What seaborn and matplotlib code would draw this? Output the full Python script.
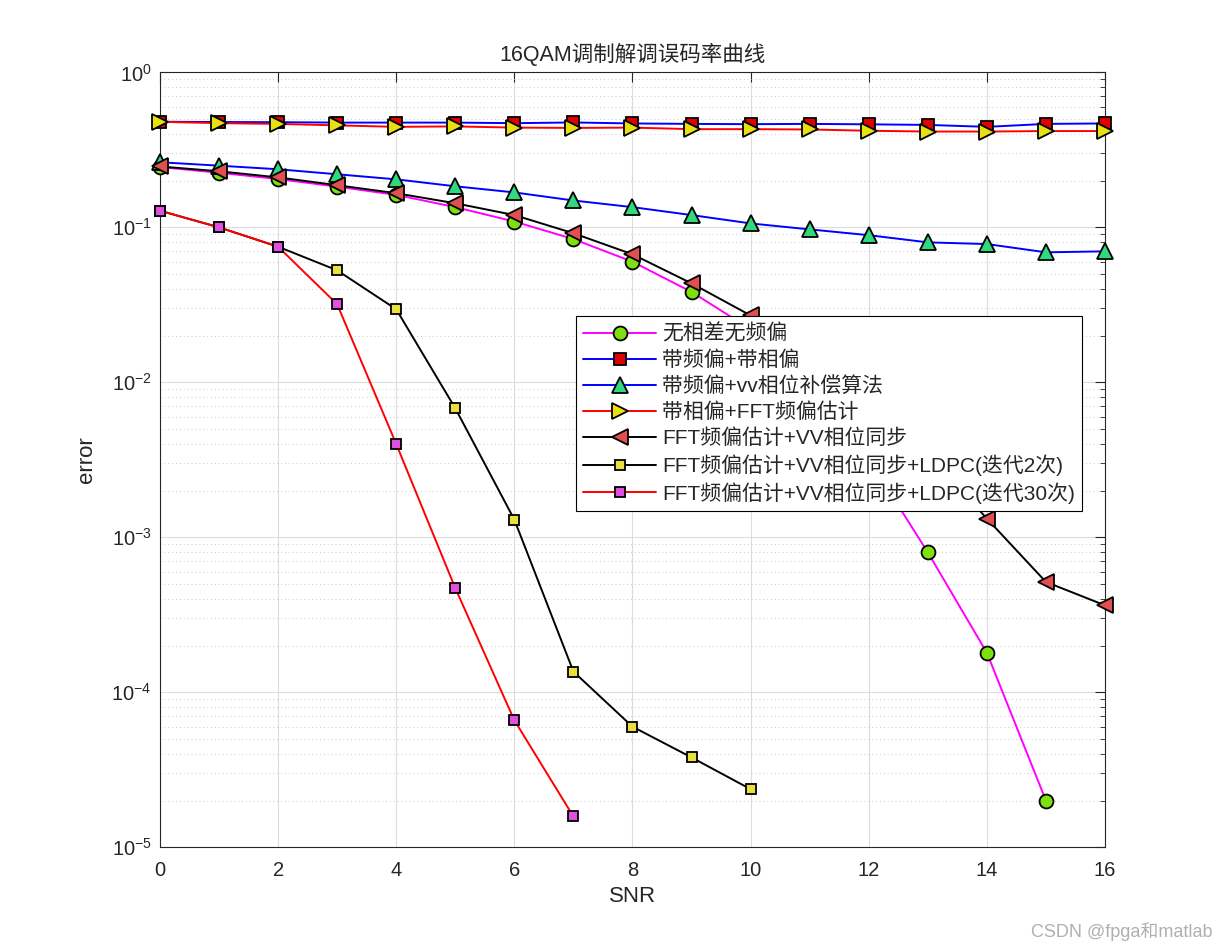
import numpy as np
import pandas as pd
import matplotlib
matplotlib.use("Agg")
import matplotlib.pyplot as plt
import seaborn as sns

## 数据
snr = list(range(0, 17))
ideal = [0.245, 0.225, 0.205, 0.183, 0.162, 0.135, 0.109, 0.084, 0.060, 0.0383,
         0.022, 0.0095, 0.0032, 0.0008, 0.00018, 0.00002]
freq_phase = [0.480, 0.478, 0.477, 0.474, 0.474, 0.474, 0.470, 0.475, 0.468, 0.465,
              0.463, 0.465, 0.462, 0.458, 0.445, 0.465, 0.468]
vv_comp = [0.263, 0.250, 0.237, 0.220, 0.204, 0.184, 0.168, 0.149, 0.135, 0.120,
           0.106, 0.097, 0.089, 0.080, 0.078, 0.069, 0.070]
fft_est = [0.480, 0.470, 0.465, 0.455, 0.445, 0.448, 0.440, 0.438, 0.440, 0.430,
           0.430, 0.428, 0.420, 0.415, 0.415, 0.418, 0.418]
fft_vv = [0.247, 0.230, 0.210, 0.187, 0.166, 0.143, 0.120, 0.0916, 0.067, 0.0435,
          0.027, 0.016, 0.008, 0.0035, 0.00132, 0.000515, 0.000364]
ldpc2 = [0.128, 0.100, 0.075, 0.0528, 0.0296, 0.0068, 0.0013, 0.000136, 0.000060,
         0.000038, 0.0000237]
ldpc30 = [0.128, 0.100, 0.075, 0.0319, 0.0040, 0.00047, 0.000066, 0.0000158]

labels = ['无相差无频偏', '带频偏+带相偏', '带频偏+vv相位补偿算法', '带相偏+FFT频偏估计',
          'FFT频偏估计+VV相位同步', 'FFT频偏估计+VV相位同步+LDPC(迭代2次)',
          'FFT频偏估计+VV相位同步+LDPC(迭代30次)']
ytick_vals = [1e-5, 1e-4, 1e-3, 1e-2, 1e-1, 1]
ytick_text = ['$\\mathregular{10^{-5}}$', '$\\mathregular{10^{-4}}$', '$\\mathregular{10^{-3}}$',
              '$\\mathregular{10^{-2}}$', '$\\mathregular{10^{-1}}$', '$\\mathregular{10^{0}}$']

sns.set_style('white')
plt.rcParams['font.family'] = ['Liberation Sans', 'Noto Sans CJK SC', 'DejaVu Sans']
plt.rcParams['mathtext.fontset'] = 'custom'
plt.rcParams['mathtext.rm'] = 'Liberation Sans'
plt.rcParams['axes.unicode_minus'] = False

fig = plt.figure(figsize=(12.21, 9.52), dpi=100)
ax = fig.add_axes([0.131, 0.110, 0.774, 0.814])

# (数据, 线色, 标记, 填充色, 标记大小)
series = [
    (ideal, '#ff00ff', 'o', '#7fe010', 10),
    (freq_phase, '#0000ff', 's', '#e00000', 8),
    (vv_comp, '#0000ff', '^', '#30d880', 11),
    (fft_est, '#ff0000', '>', '#e8e010', 11),
    (fft_vv, '#000000', '<', '#e05050', 11),
    (ldpc2, '#000000', 's', '#e8e040', 7),
    (ldpc30, '#ff0000', 's', '#e050e0', 7),
]

for (vals, lc, mk, fc, ms), lab in zip(series, labels):
    df = pd.DataFrame({'SNR': snr[:len(vals)], 'error': vals})
    sns.lineplot(data=df, x='SNR', y='error', ax=ax, color=lc, linewidth=1.4,
                 marker=mk, markersize=ms, markerfacecolor=fc,
                 markeredgecolor='k', markeredgewidth=1.3, label=lab,
                 clip_on=False, zorder=3)

ax.set_yscale('log')
ax.set_xlim(0, 16)
ax.set_ylim(1e-5, 1)
ax.set_xticks(range(0, 17, 2))
ax.set_yticks(ytick_vals)
ax.set_yticklabels(ytick_text)

ax.grid(True, which='major', color='#dcdcdc', linewidth=0.8, linestyle='-')
ax.grid(True, which='minor', axis='y', color='#cccccc', linewidth=0.7, linestyle=(0, (1, 3)))
ax.tick_params(which='both', direction='in', top=True, right=True, labelsize=14.5,
               color='#262626', labelcolor='#262626')
ax.tick_params(which='major', length=7)
ax.tick_params(which='minor', length=3.5)
ax.tick_params(axis='x', pad=10)
ax.tick_params(axis='y', pad=6)
for s in ax.spines.values():
    s.set_color('#262626')
    s.set_linewidth(0.8)

ax.set_xlabel('SNR', fontsize=16, color='#262626', labelpad=4)
ax.set_ylabel('error', fontsize=16, color='#262626', labelpad=10)
ax.set_title('16QAM调制解调误码率曲线', fontsize=15.5, color='#262626', pad=8)

leg = ax.legend(loc='upper left', bbox_to_anchor=(0.44, 0.685), borderaxespad=0,
                fontsize=15, frameon=True, fancybox=False, edgecolor='k',
                framealpha=1, handlelength=3.5, labelspacing=0.3,
                borderpad=0.35, handletextpad=0.3)
leg.get_frame().set_linewidth(0.8)
leg.set_zorder(5)

fig.text(0.993, 0.012, 'CSDN @fpga和matlab', ha='right', va='bottom',
         fontsize=13, color='#b0b0b0')

fig.savefig('out.png', dpi=100, facecolor='white')
